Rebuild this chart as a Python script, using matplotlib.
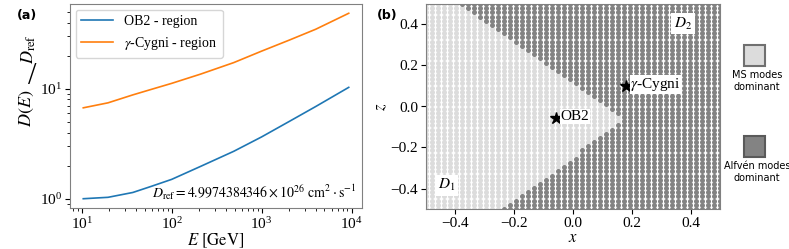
import matplotlib
matplotlib.use("Agg")
import matplotlib.pyplot as plt
import numpy as np
from matplotlib.path import Path
from matplotlib.patches import Rectangle

plt.rcParams['font.family'] = ['Liberation Serif', 'DejaVu Serif']
plt.rcParams['mathtext.fontset'] = 'stix'

# panel (a): D(E)/D_ref
energy = [10.4, 19.6, 37, 60, 100, 210, 490, 1000, 2050, 4000, 9300]
ob2 = [1.0, 1.03, 1.14, 1.30, 1.50, 1.97, 2.70, 3.65, 5.07, 6.9, 10.3]
cygni = [6.71, 7.45, 8.8, 9.9, 11.2, 13.6, 17.3, 22.0, 27.8, 34.8, 48.6]

# panel (b): grid of (x, z) and the MS-dominated wedge
grid_x = np.linspace(-0.5, 0.5, 50)
grid_z = np.linspace(-0.5, 0.5, 50)
wedge_x = [-0.52, -0.40, 0.155, 0.155, -0.265, -0.52]
wedge_z = [0.52, 0.52, -0.035, -0.085, -0.52, -0.52]
sources = {'OB2': (-0.058, -0.057), r'$\gamma$-Cygni': (0.18, 0.10)}

light = '#dcdcdc'
dark = '#838383'
spine_col = '#808080'

W, H = 789, 249
fig = plt.figure(figsize=(W / 100, H / 100), dpi=100)
ax1 = fig.add_axes([70 / W, 1 - 208 / H, 292 / W, 204 / H])
ax2 = fig.add_axes([426 / W, 1 - 209 / H, 294 / W, 205 / H])

ax1.plot(energy, ob2, color='#1f77b4', lw=1.2, label='OB2 - region')
ax1.plot(energy, cygni, color='#ff7f0e', lw=1.2, label=r'$\gamma$-Cygni - region')
ax1.set_xscale('log')
ax1.set_yscale('log')
ax1.set_xlabel(r'$E\ [\mathrm{GeV}]$', fontsize=12, labelpad=0)
ax1.legend(loc='upper left', fontsize=10, borderaxespad=0.4, handlelength=2.3)
ax1.text(0.98, 0.03, r'$D_{\mathrm{ref}} = 4.9974384346 \times 10^{26}\ \mathrm{cm^2 \cdot s^{-1}}$',
         transform=ax1.transAxes, ha='right', va='bottom', fontsize=10)
ax1.tick_params(labelsize=11, pad=2)

# y label of panel (a): D(E) / D_ref with a tall slash
fig.text(27 / W, 1 - 108 / H, r'$D(E)$', rotation=90, fontsize=13,
         ha='center', va='center')
fig.text(32 / W, 1 - 84 / H, '/', fontsize=22, ha='center', va='baseline',
         family='Liberation Serif')
fig.text(29 / W, 1 - 49 / H, r'$D_{\mathrm{ref}}$', rotation=90, fontsize=13,
         ha='center', va='center')

X, Z = np.meshgrid(grid_x, grid_z)
pts = np.column_stack([X.ravel(), Z.ravel()])
inside = Path(np.column_stack([wedge_x, wedge_z])).contains_points(pts)
ax2.scatter(pts[inside, 0], pts[inside, 1], s=13, color=light, linewidths=0)
ax2.scatter(pts[~inside, 0], pts[~inside, 1], s=13, color=dark, linewidths=0)
for name, (sx, sz) in sources.items():
    ax2.plot(sx, sz, marker='*', color='black', ms=9, ls='none')
    ax2.text(sx + 0.015, sz + 0.008, name, fontsize=11, va='center', ha='left',
             bbox=dict(facecolor='white', edgecolor='none', pad=0.5))
ax2.text(-0.43, -0.385, r'$D_1$', fontsize=11, ha='center', va='center',
         bbox=dict(facecolor='white', edgecolor='none', pad=2))
ax2.text(0.375, 0.405, r'$D_2$', fontsize=11, ha='center', va='center',
         bbox=dict(facecolor='white', edgecolor='none', pad=2))
ax2.set_xlim(-0.5, 0.5)
ax2.set_ylim(-0.5, 0.5)
ax2.set_xticks([-0.4, -0.2, 0.0, 0.2, 0.4])
ax2.set_yticks([-0.4, -0.2, 0.0, 0.2, 0.4])
ax2.set_xlabel(r'$x$', fontsize=12, labelpad=0)
ax2.set_ylabel(r'$z$', fontsize=12, labelpad=1)
ax2.tick_params(labelsize=11, pad=2)

for ax in (ax1, ax2):
    for sp in ax.spines.values():
        sp.set_color(spine_col)

# side legend for panel (b)
for (y0, face, edge, txt) in [(45, light, '#707070', 'MS modes\ndominant'),
                              (136, dark, '#5a5a5a', 'Alfvén modes\ndominant')]:
    fig.add_artist(Rectangle((744 / W, 1 - (y0 + 21) / H), 21 / W, 21 / H,
                             transform=fig.transFigure, facecolor=face,
                             edgecolor=edge, lw=1.5))
    fig.text(757 / W, 1 - (y0 + 25) / H, txt, ha='center', va='top',
             fontsize=7, family='DejaVu Sans', linespacing=1.3)

fig.text(17 / W, 1 - 15 / H, '(a)', fontsize=9, fontweight='bold',
         family='DejaVu Sans', ha='left', va='center')
fig.text(377 / W, 1 - 15 / H, '(b)', fontsize=9, fontweight='bold',
         family='DejaVu Sans', ha='left', va='center')

fig.savefig('out.png', dpi=100)
